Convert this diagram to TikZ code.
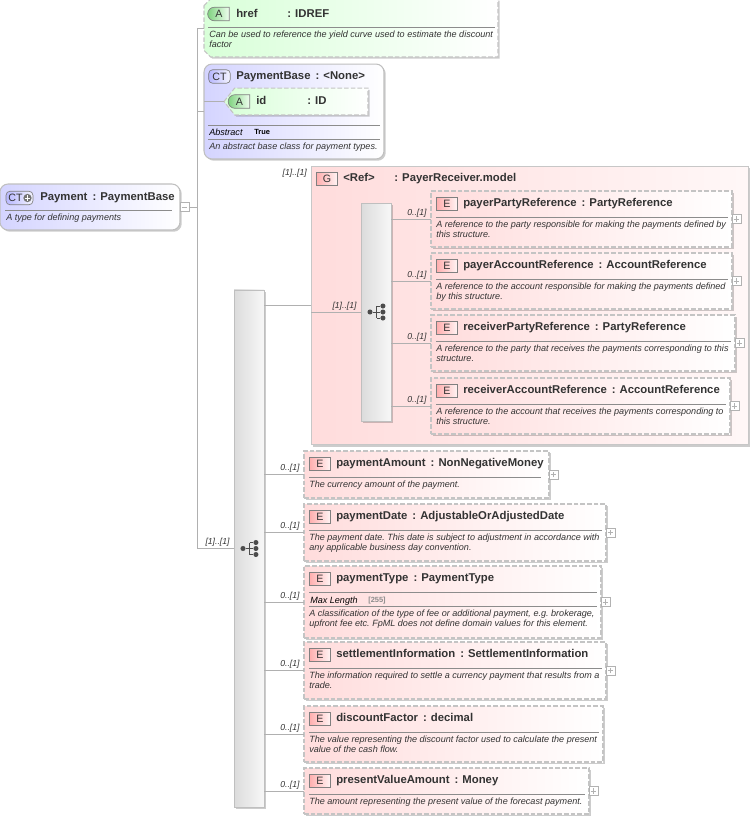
\documentclass[tikz,border=0pt]{standalone}
\usepackage{fontspec}
\setmainfont{Liberation Sans}
\usetikzlibrary{shapes.misc,shadows}

\definecolor{inktext}{HTML}{333333}
\definecolor{linegray}{HTML}{B0B0B0}
\definecolor{dashgray}{HTML}{C4C4C4}
\definecolor{elempink}{HTML}{FFDCDC}
\definecolor{typeblue}{HTML}{D4D4FF}
\definecolor{attrgreen}{HTML}{D8FFD8}

\newcommand{\colonsep}{\hspace{3.8pt}:\hspace{3pt}}

\tikzset{
  softshadow/.style={drop shadow={shadow xshift=1.3pt,shadow yshift=-1.3pt,fill=black,opacity=.2}},
  conn/.style={draw=linegray,line width=.6pt},
  headrule/.style={draw=black!45,line width=.5pt},
  elembox/.style={rectangle,draw=dashgray,line width=.8pt,dash pattern=on 3.4pt off 1.6pt,
    left color=elempink,right color=white,softshadow,inner sep=0pt,outer sep=0pt},
  groupbox/.style={rectangle,draw=black!22,line width=.8pt,
    left color=elempink,right color=red!3,softshadow,inner sep=0pt,outer sep=0pt},
  typebox/.style={rectangle,rounded corners=6pt,draw=black!25,line width=.8pt,
    left color=typeblue,right color=white,softshadow,inner sep=0pt,outer sep=0pt},
  attrframe/.style={rectangle,inner sep=0pt,outer sep=0pt},
  attrshape/.style={draw=dashgray,line width=.8pt,dash pattern=on 3.4pt off 1.6pt,
    left color=attrgreen,right color=white,softshadow},
  seqbar/.style={rectangle,draw=black!25,line width=.7pt,left color=black!14,right color=black!3,
    softshadow,inner sep=0pt,outer sep=0pt,minimum width=22.5pt},
  badge/.style={draw=black!50,line width=.5pt,text=black!80,inner sep=0pt,
    minimum height=10.2pt,font=\fontsize{8}{9}\selectfont},
  ebadge/.style={badge,rectangle,minimum width=16.2pt,left color=red!32,right color=red!4},
  ctbadge/.style={badge,rectangle,rounded corners=3pt,minimum width=16.2pt,left color=blue!28,right color=blue!4},
  abadge/.style={badge,rounded rectangle,rounded rectangle east arc=none,minimum width=16.2pt,
    left color=green!65!black!50,right color=green!6},
  expander/.style={rectangle,draw=black!30,line width=.4pt,fill=white,inner sep=0pt,outer sep=0pt,
    minimum size=6.6pt,anchor=west},
  titletext/.style={anchor=base west,inner sep=0pt,text=inktext,font=\bfseries\fontsize{8.5}{10}\selectfont},
  desctext/.style={anchor=north west,inner sep=0pt,align=left,text=inktext,font=\frenchspacing\itshape\fontsize{6.8}{7.5}\selectfont},
  rowtext/.style={anchor=base west,inner sep=0pt,text=black,font=\itshape\fontsize{6.8}{7.5}\selectfont},
  rowvalue/.style={anchor=base west,inner sep=0pt,font=\bfseries\fontsize{5.6}{7}\selectfont},
  mult/.style={anchor=south east,inner sep=0pt,xshift=-3pt,yshift=1.1pt,text=inktext,
    font=\itshape\fontsize{6.5}{7.5}\selectfont},
  icondot/.style={circle,fill=black!70,inner sep=0pt,minimum size=3.8pt},
}

% element box: [rule inset] name x1 y1 x2 y2 title desc-shift description
\newcommand{\elementbox}[9][4]{%
  \pgfmathsetmacro\boxw{(#5-#3)*0.75}
  \pgfmathsetmacro\boxh{(#6-#4)*0.75}
  \node[elembox,minimum width=\boxw pt,minimum height=\boxh pt] (#2) at ({(#3+#5)/2},{(#4+#6)/2}) {};
  \node[ebadge] (#2-b) at (#3+16,#4+13) {E};
  \node[titletext] (#2-t) at (#3+32,#4+15.5) {#7};
  \draw[headrule] (#3+5,#4+26) -- (#5-#1,#4+26);
  \node[desctext] (#2-d) at (#3+5,#4+30+#8) {#9};
}

% expander square on the right side of a box
\newcommand{\expandbox}[1]{%
  \node[expander] (#1-x) at (#1.east) {};
  \draw[draw=black!30,line width=.4pt] ([xshift=-2pt]#1-x.center) -- ([xshift=2pt]#1-x.center)
    ([yshift=-2pt]#1-x.center) -- ([yshift=2pt]#1-x.center);
}

% connector from a sequence bar to a child, with its multiplicity
\newcommand{\childlink}[2]{%
  \draw[conn] (#1.east |- #2.west) -- (#2.west) node[mult] (#2-m) {0..[1]};
}

% sequence icon in the middle of a bar
\newcommand{\seqicon}[1]{%
  \node[icondot] (#1-i0) at ([xshift=-4.5pt]#1.center) {};
  \node[icondot] (#1-i1) at ([xshift=5.2pt,yshift=4.5pt]#1.center) {};
  \node[icondot] (#1-i2) at ([xshift=5.2pt]#1.center) {};
  \node[icondot] (#1-i3) at ([xshift=5.2pt,yshift=-4.5pt]#1.center) {};
  \draw[black!70,line width=.7pt] (#1-i0) -- (#1-i2)
    ([xshift=.7pt]#1.center |- #1-i1) -- ([xshift=.7pt]#1.center |- #1-i3)
    ([xshift=.7pt]#1.center |- #1-i1) -- (#1-i1)
    ([xshift=.7pt]#1.center |- #1-i3) -- (#1-i3);
}

\begin{document}
\begin{tikzpicture}[x=0.75pt,y=-0.75pt]
  \useasboundingbox (0,0) rectangle (754,819);

  % Payment
  \node[typebox,minimum width=135pt,minimum height=34.5pt] (payment) at (90,207) {};
  \node[ctbadge,minimum width=20.2pt] (payment-b) at (19.5,198) {\hspace{-6pt}CT};
  \node[circle,fill=black!55,inner sep=0pt,minimum size=6.2pt] (payment-p) at (27.5,198) {};
  \draw[white,line width=.7pt] ([xshift=-2pt]payment-p.center) -- ([xshift=2pt]payment-p.center)
    ([yshift=-2pt]payment-p.center) -- ([yshift=2pt]payment-p.center);
  \node[titletext] (payment-t) at (40,200) {Payment\colonsep PaymentBase};
  \draw[headrule] (5,210) -- (172,210);
  \node[desctext] (payment-d) at (6,214) {A type for defining payments};
  \node[expander] (payment-x) at (payment.east) {};
  \draw[draw=black!30,line width=.4pt] ([xshift=-2pt]payment-x.center) -- ([xshift=2pt]payment-x.center);

  % href attribute
  \node[attrframe,minimum width=220.5pt,minimum height=43.5pt] (href) at (351,28) {};
  \draw[attrshape] ([yshift=-5pt]href.north west) -- ([xshift=5pt]href.north west) -- (href.north east)
    -- (href.south east) -- ([xshift=5pt]href.south west) -- ([yshift=5pt]href.south west) -- cycle;
  \node[abadge] (href-b) at (219,14) {A};
  \node[titletext] (href-t) at (236,17) {href};
  \node[titletext] (href-y) at (287,17) {: IDREF};
  \draw[headrule] (208,27) -- (495,27);
  \node[desctext] (href-d) at (209,31) {Can be used to reference the yield curve used to estimate the discount\\factor};

  % PaymentBase
  \node[typebox,minimum width=135pt,minimum height=71.2pt] (base) at (294,111.5) {};
  \node[ctbadge] (base-b) at (219.5,76.5) {CT};
  \node[titletext] (base-t) at (236,79) {PaymentBase\colonsep <None>};
  \node[attrframe,minimum width=108pt,minimum height=20.2pt] (idattr) at (296,101.5) {};
  \draw[attrshape] (idattr.west) -- ([xshift=8pt]idattr.north west) -- (idattr.north east)
    -- (idattr.south east) -- ([xshift=8pt]idattr.south west) -- cycle;
  \node[abadge] (idattr-b) at (239.5,101.5) {A};
  \node[titletext] (idattr-t) at (256,104) {id};
  \node[titletext] (idattr-y) at (307,104) {: ID};
  \draw[headrule] (208,125) -- (380,125);
  \node[rowtext] (base-a) at (209,135) {Abstract};
  \node[rowvalue] (base-v) at (254,134) {True};
  \draw[headrule] (208,139) -- (380,139);
  \node[desctext] (base-d) at (209,143) {An abstract base class for payment types.};
  \draw[conn] (base.west |- idattr.west) -- (idattr.west);

  % Main sequence bar
  \node[seqbar,minimum height=387.8pt] (mainseq) at (249,548.5) {};
  \seqicon{mainseq}

  % PayerReceiver group
  \node[groupbox,minimum width=328pt,minimum height=209pt] (group) at (530,305.5) {};
  \node[ebadge] (group-b) at (327,179) {G};
  \node[titletext] (group-t) at (343,181) {<Ref>};
  \node[titletext] (group-y) at (394,181) {: PayerReceiver.model};
  \node[mult,anchor=base east] (group-m) at (311,176.5) {[1]..[1]};

  % Group sequence bar
  \node[seqbar,minimum height=163.5pt] (groupseq) at (376,312) {};
  \seqicon{groupseq}

  % Group children
  \elementbox{payer}{431}{191}{732}{247}{payerPartyReference\colonsep PartyReference}{0}{A reference to the party responsible for making the payments defined by\\this structure.}
  \elementbox{payeracc}{431}{253}{732}{309}{payerAccountReference\colonsep AccountReference}{0}{A reference to the account responsible for making the payments defined\\by this structure.}
  \elementbox{receiver}{431}{315}{735}{371}{receiverPartyReference\colonsep PartyReference}{0}{A reference to the party that receives the payments corresponding to this\\structure.}
  \elementbox{receiveracc}{431}{378}{730}{434}{receiverAccountReference\colonsep AccountReference}{0}{A reference to the account that receives the payments corresponding to\\this structure.}

  % Main children
  \elementbox[8]{amount}{304}{451}{549}{498}{paymentAmount\colonsep NonNegativeMoney}{0}{The currency amount of the payment.}
  \elementbox{date}{304}{504}{606}{561}{paymentDate\colonsep AdjustableOrAdjustedDate}{0}{The payment date. This date is subject to adjustment in accordance with\\any applicable business day convention.}
  \elementbox{type}{304}{566}{601}{638}{paymentType\colonsep PaymentType}{14}{A classification of the type of fee or additional payment, e.g. brokerage,\\upfront fee etc. FpML does not define domain values for this element.}
  \node[rowtext] (type-a) at (310,603) {Max Length};
  \node[rowvalue,text=black!45] (type-v) at (368,602.5) {[255]};
  \draw[headrule] (309,606) -- (597,606);
  \elementbox{settle}{304}{642}{606}{699}{settlementInformation\colonsep SettlementInformation}{0}{The information required to settle a currency payment that results from a\\trade.}
  \elementbox{discount}{304}{706}{603}{762}{discountFactor\colonsep decimal}{0}{The value representing the discount factor used to calculate the present\\value of the cash flow.}
  \elementbox{present}{304}{768}{589}{814}{presentValueAmount\colonsep Money}{0}{The amount representing the present value of the forecast payment.}

  % Expanders
  \foreach \nm in {payer,payeracc,receiver,receiveracc,amount,date,type,settle,present} {
    \expandbox{\nm}
  }

  % Connectors inside the group
  \foreach \nm in {payer,payeracc,receiver,receiveracc} {
    \childlink{groupseq}{\nm}
  }
  \draw[conn] (group.west |- groupseq.west) -- (groupseq.west) node[mult] (groupseq-m) {[1]..[1]};

  % Connectors from the main bar
  \foreach \nm in {amount,date,type,settle,discount,present} {
    \childlink{mainseq}{\nm}
  }
  \draw[conn] (mainseq.east |- group.west) -- (group.west);

  % Trunk
  \coordinate (trunk) at (197,207);
  \draw[conn] (payment-x.east) -- (trunk);
  \draw[conn] (trunk |- href.west) -- (trunk |- mainseq.west);
  \draw[conn] (trunk |- href.west) -- (href.west);
  \draw[conn] (trunk |- base.west) -- (base.west);
  \draw[conn] (trunk |- mainseq.west) -- (mainseq.west) node[mult] (mainseq-m) {[1]..[1]};
\end{tikzpicture}
\end{document}
